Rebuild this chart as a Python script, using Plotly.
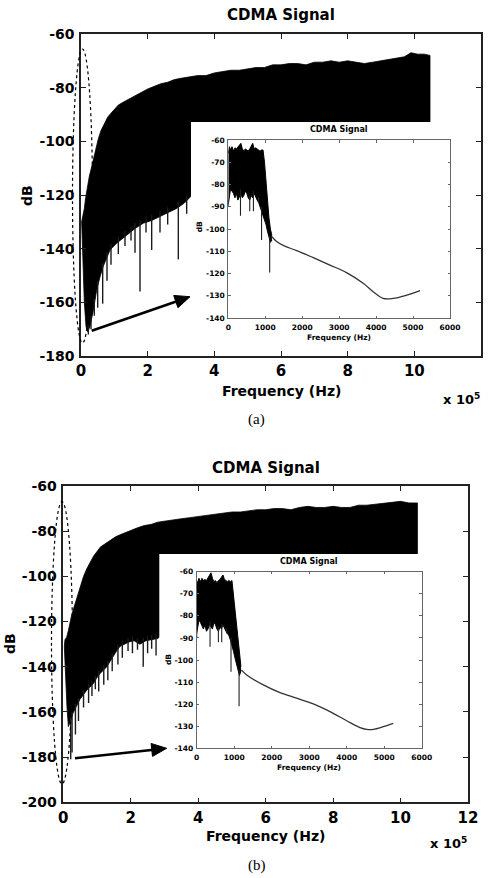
import numpy as np
import plotly.graph_objects as go

W, H = 490, 878
FONT = "DejaVu Sans"

# ---------------- Panel (a): main spectrum (frequency in units of 1e5 Hz) ----------------
a_top_f = [0.02, 0.06, 0.10, 0.14, 0.19, 0.25, 0.31, 0.37, 0.44, 0.52, 0.60, 0.70, 0.80, 0.90, 1.00,
           1.12, 1.25, 1.40, 1.55, 1.70, 1.85, 2.00, 2.20, 2.40, 2.60, 2.80, 3.00, 3.25, 3.50, 3.75,
           4.00, 4.25, 4.50, 4.75, 5.00, 5.25, 5.50, 5.75, 6.00, 6.25, 6.50, 6.75, 7.00, 7.25, 7.50,
           7.75, 8.00, 8.25, 8.50, 8.75, 9.00, 9.25, 9.50, 9.70, 9.90, 10.10, 10.30, 10.47]
a_top_db = [-130, -128, -125, -121, -117, -113, -110, -106.5, -103, -99, -96, -93.5, -91, -89.5, -88,
            -86.5, -85.5, -84.5, -83.5, -82.5, -81.5, -80.5, -79.5, -78.5, -78, -77, -76.5, -76, -75.5, -75.5,
            -74.5, -74, -73.5, -73.5, -73, -72.5, -72.5, -71.5, -71.5, -71, -71, -71.5, -70.5, -70.5, -70,
            -70.5, -70, -70.5, -71, -70.5, -70, -69.5, -69, -68.5, -67, -67.5, -67.5, -68]
a_low_f = [0.02, 0.06, 0.10, 0.15, 0.20, 0.27, 0.37, 0.47, 0.57, 0.67, 0.87, 1.07, 1.37, 1.62, 1.87,
           2.12, 2.37, 2.62, 2.87, 3.10, 3.30, 4.00, 5.00, 6.00, 7.00, 8.00, 9.00, 10.47]
a_low_db = [-131, -145, -160, -169, -171, -169, -163, -155.5, -150.5, -146.5, -140.5, -138, -135, -132.5, -130.5,
            -129.5, -128, -126.5, -125, -123, -120.5, -118, -116, -115, -114, -113, -112, -111]
a_spike_f = [0.22, 0.30, 0.40, 0.50, 0.65, 0.78, 0.90, 1.12, 1.32, 1.50, 1.62, 1.77, 1.95, 2.12, 2.37, 2.60, 2.92, 3.17]
a_spike_db = [-172, -170, -165, -162, -160.5, -152, -146, -142, -139, -137, -141.5, -156, -134, -140.5, -134, -131, -144, -127]

# ---------------- Panel (a): inset (Hz) ----------------
noise_hz = [0, 30, 60, 100, 140, 180, 220, 260, 300, 340, 380, 420, 460, 500, 540, 580, 620, 660, 700,
            740, 780, 820, 860, 900, 940, 980, 1020, 1060, 1100, 1140, 1180]
ia_noise_top = [-66, -63, -64.5, -63, -65, -63.5, -64, -63, -62.5, -61.5, -64, -65, -64, -64.5, -65, -64,
                -62.5, -61.5, -64, -63.5, -64, -64.5, -65, -64.5, -64.5, -70, -80, -89, -95, -100, -103]
ia_noise_low = [-89, -85, -82, -83, -84, -86, -84, -87, -85, -84, -86, -85, -83, -84, -86, -87, -85, -86, -84,
                -86, -87, -88, -90, -92, -93, -95, -98, -101, -104, -106, -105]
ia_spike_hz = [0, 330, 580, 680, 812, 900, 1120]
ia_spike_db = [-90, -94, -92, -92, -88, -105, -119.5]
ia_curve_hz = [1180, 1300, 1500, 1850, 2300, 2750, 3200, 3650, 3920, 4190, 4460, 4830, 5190]
ia_curve_db = [-103.5, -105.5, -107.5, -109.7, -112.9, -116.2, -119.6, -124.4, -128.2, -131.2, -131.2, -129.7, -127.7]

# ---------------- Panel (b): main spectrum ----------------
b_top_f = [0.05, 0.10, 0.15, 0.20, 0.25, 0.30, 0.37, 0.44, 0.52, 0.60, 0.70, 0.80, 0.90, 1.00, 1.10,
           1.25, 1.40, 1.55, 1.70, 1.85, 2.00, 2.20, 2.40, 2.60, 2.80, 3.00, 3.25, 3.50, 3.75, 4.00,
           4.25, 4.50, 4.75, 5.00, 5.25, 5.50, 5.75, 6.00, 6.25, 6.50, 6.75, 7.00, 7.25, 7.50, 7.75,
           8.00, 8.25, 8.50, 8.75, 9.00, 9.25, 9.50, 9.75, 10.00, 10.25, 10.50]
b_top_db = [-128, -127, -124, -120, -117, -114.5, -111, -107.5, -103.5, -100, -96.5, -93.5, -91, -89, -87,
            -85.5, -84, -82.5, -81.5, -80.5, -79.5, -78.5, -77.5, -77, -76, -75.5, -75, -74.5, -74, -73.5,
            -73, -72.5, -72, -71.5, -71.5, -71, -70.5, -70.5, -70, -70, -70.5, -69.5, -69, -69.5, -69.5,
            -69, -69.5, -69.5, -68.5, -68.5, -68, -67.5, -67, -66.8, -67.5, -67.5]
b_low_f = [0.03, 0.07, 0.11, 0.15, 0.22, 0.29, 0.39, 0.49, 0.59, 0.69, 0.79, 0.89, 0.99, 1.09, 1.19,
           1.29, 1.39, 1.48, 1.58, 1.68, 1.80, 1.95, 2.10, 2.27, 2.45, 2.62, 2.80, 3.00, 4.00, 5.00,
           6.00, 7.00, 8.00, 9.00, 10.50]
b_low_db = [-131, -145, -158, -166.5, -164, -160.5, -157.5, -154.5, -152.5, -150.5, -149, -147.5, -145, -143, -141.5,
            -140, -137.5, -135.5, -133, -131, -130, -129, -128.5, -130, -128.5, -128, -127.5, -125, -120, -117,
            -115, -114, -113, -112, -111]
b_spike_f = [0.22, 0.26, 0.36, 0.45, 0.60, 0.75, 0.85, 0.95, 1.05, 1.20, 1.32, 1.45, 1.62, 1.75, 1.92,
             2.05, 2.20, 2.37, 2.50, 2.62, 2.75]
b_spike_db = [-181, -178, -170, -164, -158, -156, -153, -150, -151, -148, -146, -142, -139, -136, -133,
              -134, -132.5, -140, -134, -132, -135]

# ---------------- Panel (b): inset ----------------
ib_noise_top = [-66, -64, -63, -64.5, -63, -64, -63.5, -64, -63, -62, -60.5, -63, -64.5, -64, -65, -64,
                -63.5, -62.5, -61.5, -63.5, -64, -64.5, -64, -64.5, -64, -71, -77, -85, -92, -98, -103]
ib_noise_low = [-88, -84, -82, -83, -85, -86, -84, -87, -86, -84, -85, -86, -83, -84, -86, -87, -85, -86, -84,
                -86, -87, -88, -89, -91, -93, -96, -99, -102, -105, -107, -105]
ib_spike_hz = [0, 356, 578, 667, 800, 915, 1130]
ib_spike_db = [-90, -94, -92, -92, -88, -105.3, -121]
ib_curve_hz = [1190, 1333, 1777, 2222, 2667, 3110, 3555, 4000, 4355, 4534, 4710, 4977, 5243]
ib_curve_db = [-104.5, -106.8, -111.3, -114.8, -117.3, -119.9, -123.4, -127.5, -130.6, -131.4, -131.4, -130.2, -128.7]

main_a_yticks = [-180, -160, -140, -120, -100, -80, -60]
main_b_yticks = [-200, -180, -160, -140, -120, -100, -80, -60]
main_xticks = [0, 2, 4, 6, 8, 10, 12]
inset_xticks = [0, 1000, 2000, 3000, 4000, 5000, 6000]
inset_yticks = [-140, -130, -120, -110, -100, -90, -80, -70, -60]


def band(top_x, top_y, low_x, low_y, xa, ya):
    xs = list(top_x) + list(low_x)[::-1] + [top_x[0]]
    ys = list(top_y) + list(low_y)[::-1] + [top_y[0]]
    return go.Scatter(x=xs, y=ys, mode="lines", fill="toself", fillcolor="black",
                      line=dict(color="black", width=0.8), xaxis=xa, yaxis=ya,
                      hoverinfo="skip", showlegend=False)


def spikes(sx, sy, ref_x, ref_y, xa, ya, color="#1a1a1a", width=1.4):
    xs, ys = [], []
    for f, d in zip(sx, sy):
        start = float(np.interp(f, ref_x, ref_y)) + 2
        xs += [f, f, None]
        ys += [start, d, None]
    return go.Scatter(x=xs, y=ys, mode="lines", line=dict(color=color, width=width),
                      xaxis=xa, yaxis=ya, hoverinfo="skip", showlegend=False)


traces = []
# (a) main
traces.append(band(a_top_f, a_top_db, a_low_f, a_low_db, "x", "y"))
traces.append(spikes(a_spike_f, a_spike_db, a_low_f, a_low_db, "x", "y"))
# (a) white inset backdrop
traces.append(go.Scatter(x=[None], y=[None], xaxis="x2", yaxis="y2", showlegend=False))
# (a) inset
traces.append(go.Scatter(x=noise_hz, y=ia_noise_top, mode="lines", line=dict(color="black", width=1),
                         xaxis="x3", yaxis="y3", showlegend=False, hoverinfo="skip"))
traces.append(go.Scatter(x=noise_hz, y=ia_noise_low, mode="lines", fill="tonexty", fillcolor="black",
                         line=dict(color="black", width=1), xaxis="x3", yaxis="y3", showlegend=False, hoverinfo="skip"))
traces.append(spikes(ia_spike_hz, ia_spike_db, noise_hz, ia_noise_low, "x3", "y3", color="#222", width=1.1))
traces.append(go.Scatter(x=ia_curve_hz, y=ia_curve_db, mode="lines", line=dict(color="#333", width=1.3, shape="spline"),
                         xaxis="x3", yaxis="y3", showlegend=False, hoverinfo="skip"))
# (b) main
traces.append(band(b_top_f, b_top_db, b_low_f, b_low_db, "x4", "y4"))
traces.append(spikes(b_spike_f, b_spike_db, b_low_f, b_low_db, "x4", "y4"))
# (b) white inset backdrop
traces.append(go.Scatter(x=[None], y=[None], xaxis="x5", yaxis="y5", showlegend=False))
# (b) inset
traces.append(go.Scatter(x=noise_hz, y=ib_noise_top, mode="lines", line=dict(color="black", width=1),
                         xaxis="x6", yaxis="y6", showlegend=False, hoverinfo="skip"))
traces.append(go.Scatter(x=noise_hz, y=ib_noise_low, mode="lines", fill="tonexty", fillcolor="black",
                         line=dict(color="black", width=1), xaxis="x6", yaxis="y6", showlegend=False, hoverinfo="skip"))
traces.append(spikes(ib_spike_hz, ib_spike_db, noise_hz, ib_noise_low, "x6", "y6", color="#222", width=1.1))
traces.append(go.Scatter(x=ib_curve_hz, y=ib_curve_db, mode="lines", line=dict(color="#333", width=1.3, shape="spline"),
                         xaxis="x6", yaxis="y6", showlegend=False, hoverinfo="skip"))

fig = go.Figure(traces)


def px_dom(a, b):
    return [a / W, b / W]


def py_dom(top, bottom):
    return [1 - bottom / H, 1 - top / H]


def axis(dom, rng, ticks, size, color, ticklen, lw, anchor, standoff=None):
    d = dict(domain=dom, range=rng, tickmode="array", tickvals=ticks, ticktext=[str(t) for t in ticks],
             ticks="inside", ticklen=ticklen, tickwidth=1, tickcolor=color, mirror="ticks",
             showline=True, linecolor=color, linewidth=lw, showgrid=False, zeroline=False,
             tickfont=dict(family=FONT, size=size, color="black", weight="bold"),
             anchor=anchor, fixedrange=True, automargin=False)
    if standoff is not None:
        d["ticklabelstandoff"] = standoff
    return d


def hidden(dom, anchor):
    return dict(domain=dom, range=[0, 1], showticklabels=False, ticks="", showline=False,
                showgrid=False, zeroline=False, anchor=anchor, fixedrange=True, automargin=False)


layout = dict(
    template="none",
    width=W, height=H, margin=dict(l=0, r=0, t=0, b=0, pad=0), autosize=False,
    paper_bgcolor="white", plot_bgcolor="white", showlegend=False,
    xaxis=axis(px_dom(81, 481), [0, 12], main_xticks, 15, "#222", 5, 1.5, "y", 0),
    yaxis=axis(py_dom(34, 356), [-180, -60], main_a_yticks, 14, "#222", 5, 1.5, "x", 2),
    xaxis2=hidden(px_dom(191, 462), "y2"),
    yaxis2=hidden(py_dom(122, 346), "x2"),
    xaxis3=axis(px_dom(228.3, 450), [0, 6000], inset_xticks, 7.5, "#666", 2.5, 1, "y3", 2),
    yaxis3=axis(py_dom(140, 318), [-140, -60], inset_yticks, 7.5, "#666", 2.5, 1, "x3", 1),
    xaxis4=axis(px_dom(63.3, 468), [0, 12], main_xticks, 15, "#222", 5, 1.5, "y4", 1),
    yaxis4=axis(py_dom(486, 802.3), [-200, -60], main_b_yticks, 14, "#222", 5, 1.5, "x4", 2),
    xaxis5=hidden(px_dom(159.3, 445), "y5"),
    yaxis5=hidden(py_dom(554, 776), "x5"),
    xaxis6=axis(px_dom(196.7, 421.7), [0, 6000], inset_xticks, 7.5, "#666", 2.5, 1, "y6", 2),
    yaxis6=axis(py_dom(571.7, 748.3), [-140, -60], inset_yticks, 7.5, "#666", 2.5, 1, "x6", 1),
)
fig.update_layout(**layout)


def txt(x, y, s, size, weight="bold", family=FONT, angle=0):
    return dict(x=x / W, y=1 - y / H, xref="paper", yref="paper", text=s, showarrow=False,
                xanchor="center", yanchor="middle", textangle=angle,
                font=dict(family=family, size=size, color="black", weight=weight))


annotations = [
    # panel (a)
    txt(281, 15, "CDMA Signal", 15),
    txt(27, 196, "dB", 14, angle=-90),
    txt(281, 391, "Frequency (Hz)", 14),
    txt(461, 399, "x 10<sup>5</sup>", 13),
    txt(256, 420, "(a)", 15, weight="normal", family="Liberation Serif"),
    txt(339, 129.7, "CDMA Signal", 8),
    txt(199.3, 227, "dB", 7.5, angle=-90),
    txt(339, 337, "Frequency (Hz)", 7.5),
    # panel (b)
    txt(265.5, 467.5, "CDMA Signal", 15),
    txt(10, 644, "dB", 14, angle=-90),
    txt(265, 836, "Frequency (Hz)", 14),
    txt(448, 843, "x 10<sup>5</sup>", 13),
    txt(256.5, 865, "(b)", 15, weight="normal", family="Liberation Serif"),
    txt(309, 561, "CDMA Signal", 8),
    txt(168, 660, "dB", 7.5, angle=-90),
    txt(309, 767, "Frequency (Hz)", 7.5),
]
fig.update_layout(annotations=annotations)


def arrow_shapes(tx, ty, hx, hy, head_len=15, half_w=6.5, width=2.6):
    dx, dy = hx - tx, hy - ty
    n = (dx ** 2 + dy ** 2) ** 0.5
    ux, uy = dx / n, dy / n
    bx, by = hx - head_len * ux, hy - head_len * uy
    px_, py_ = -uy, ux
    c1 = (bx + half_w * px_, by + half_w * py_)
    c2 = (bx - half_w * px_, by - half_w * py_)

    def P(x, y):
        return f"{x / W:.5f},{1 - y / H:.5f}"

    line = dict(type="line", xref="paper", yref="paper", x0=tx / W, y0=1 - ty / H,
                x1=(bx + 2 * ux) / W, y1=1 - (by + 2 * uy) / H,
                line=dict(color="black", width=width), layer="above")
    head = dict(type="path", xref="paper", yref="paper",
                path=f"M{P(hx, hy)} L{P(*c1)} L{P(*c2)} Z",
                fillcolor="black", line=dict(color="black", width=1), layer="above")
    return [line, head]


shapes = [
    dict(type="circle", xref="paper", yref="paper", x0=72.5 / W, x1=92.5 / W, y0=1 - 343 / H, y1=1 - 49 / H,
         line=dict(color="black", width=1.2, dash="dot"), layer="above"),
    dict(type="circle", xref="paper", yref="paper", x0=51.5 / W, x1=72.5 / W, y0=1 - 784 / H, y1=1 - 501.7 / H,
         line=dict(color="black", width=1.2, dash="dot"), layer="above"),
]
shapes += arrow_shapes(91.7, 330.7, 190, 296.7)
shapes += arrow_shapes(75, 758.3, 166.7, 748.3)
fig.update_layout(shapes=shapes)

fig.write_html(
    "out.html",
    config={"displayModeBar": False},
    post_script="document.body.style.margin='0';document.body.style.overflow='hidden';",
)
